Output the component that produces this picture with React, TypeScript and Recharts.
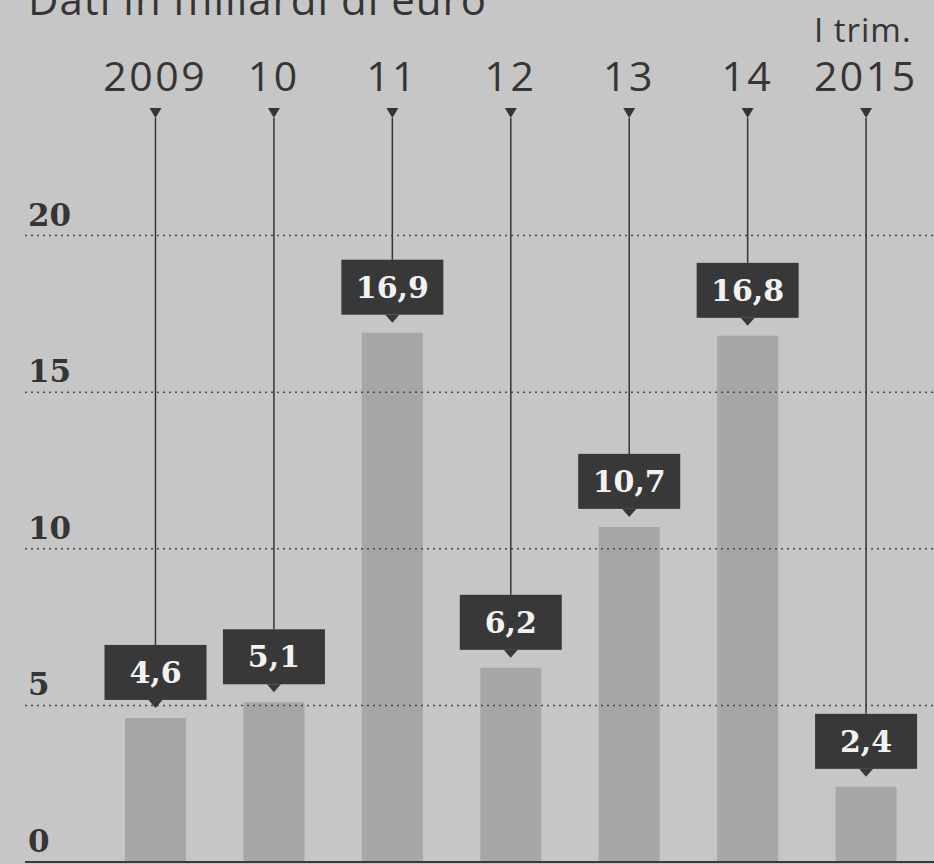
import React from "react";
import {
  BarChart,
  Bar,
  XAxis,
  YAxis,
  LabelList,
  ReferenceLine,
} from "recharts";

const years = ["2009", "10", "11", "12", "13", "14", "2015"];
const notes = ["", "", "", "", "", "", "I trim."];
const values = [4.6, 5.1, 16.9, 6.2, 10.7, 16.8, 2.4];
const yTicks = [0, 5, 10, 15, 20];
const title = "Dati in miliardi di euro";

const data = years.map((y, i) => ({ year: y, note: notes[i], value: values[i] }));

const BG = "#c6c6c6";
const INK = "#353535";
const SANS = "'Open Sans', 'Noto Sans', sans-serif";
const SERIF = "'DejaVu Serif', 'Liberation Serif', serif";

function fmt(v: number) {
  return v.toFixed(1).replace(".", ",");
}

function YearTick(props: any) {
  const { x, payload, index } = props;
  const note = notes[index];
  return (
    <g>
      {note ? (
        <text x={x - 3} y={42} textAnchor="middle" fontFamily={SANS} fontSize={33} fill={INK} letterSpacing={1}>
          {note}
        </text>
      ) : null}
      <text x={x} y={91} textAnchor="middle" fontFamily={SANS} fontSize={41} fill={INK} letterSpacing={2.5}>
        {payload.value}
      </text>
    </g>
  );
}

function ValueTick(props: any) {
  const { y, payload } = props;
  return (
    <text x={28} y={y - 10} textAnchor="start" fontFamily={SERIF} fontWeight="bold" fontSize={31} fill={INK}>
      {payload.value}
    </text>
  );
}

function Callout(props: any) {
  const { x, y, width, value } = props;
  const cx = x + width / 2;
  const boxBottom = y - 18;
  const boxTop = boxBottom - 55;
  return (
    <g>
      <polygon points={`${cx - 6},108 ${cx + 6},108 ${cx},118`} fill={INK} />
      <line x1={cx} y1={118} x2={cx} y2={boxTop} stroke={INK} strokeWidth={1.5} />
      <rect x={cx - 51} y={boxTop} width={102} height={55} fill="#383838" />
      <polygon points={`${cx - 7},${boxBottom} ${cx + 7},${boxBottom} ${cx},${boxBottom + 8}`} fill="#383838" />
      <text
        x={cx}
        y={boxTop + 38}
        textAnchor="middle"
        fontFamily={SERIF}
        fontWeight="bold"
        fontSize={30}
        fill="#f2f2f2"
      >
        {fmt(value)}
      </text>
    </g>
  );
}

export default function App() {
  return (
    <div
      style={{
        position: "absolute",
        left: 0,
        top: 0,
        width: 934,
        height: 864,
        overflow: "hidden",
        background: BG,
      }}
    >
      <div
        style={{
          position: "absolute",
          left: 28,
          top: -22,
          fontFamily: SANS,
          fontSize: 42,
          lineHeight: "42px",
          color: INK,
          letterSpacing: 1,
          whiteSpace: "nowrap",
        }}
      >
        {title}
      </div>
      <BarChart
        width={934}
        height={864}
        data={data}
        margin={{ top: 0, right: 0, left: 0, bottom: 2 }}
        style={{ position: "absolute", left: 0, top: 0 }}
      >
        <XAxis
          dataKey="year"
          orientation="top"
          height={79}
          padding={{ left: 71, right: 9 }}
          axisLine={false}
          tickLine={false}
          tick={<YearTick />}
          interval={0}
        />
        <YAxis
          type="number"
          domain={[0, 25]}
          ticks={yTicks}
          interval={0}
          width={25}
          axisLine={false}
          tickLine={false}
          tick={<ValueTick />}
        />
        {yTicks
          .filter((t) => t > 0)
          .map((t) => (
            <ReferenceLine key={t} y={t} stroke="#4a4a4a" strokeDasharray="2 4" strokeWidth={1.5} />
          ))}
        <ReferenceLine y={0} stroke="#3a3a3a" strokeWidth={2} />
        <Bar dataKey="value" fill="#a7a7a7" barSize={61} isAnimationActive={false}>
          <LabelList dataKey="value" content={<Callout />} />
        </Bar>
      </BarChart>
    </div>
  );
}
